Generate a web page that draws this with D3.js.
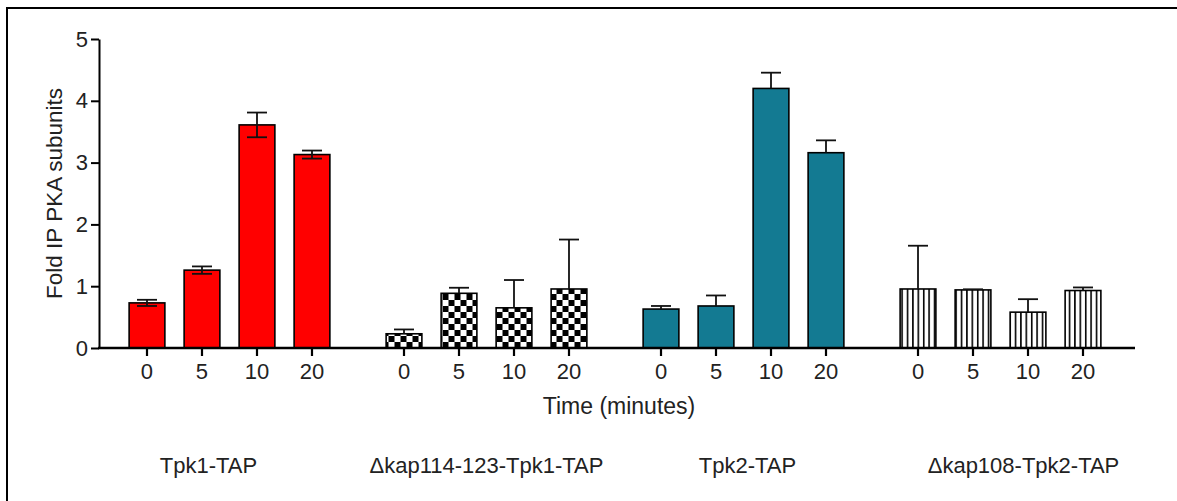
<!DOCTYPE html>
<html>
<head>
<meta charset="utf-8">
<script src="https://cdn.jsdelivr.net/npm/d3@7"></script>
<style>
  body { margin: 0; background: #fff; }
  svg { display: block; }
</style>
</head>
<body>
<div id="chart"></div>
<script>
// data
const groups = ["Tpk1-TAP", "\u0394kap114-123-Tpk1-TAP", "Tpk2-TAP", "\u0394kap108-Tpk2-TAP"];
const times = ["0", "5", "10", "20"];
const tpk1 = [0.73, 1.26, 3.61, 3.13];
const tpk1Err = [0.05, 0.06, 0.2, 0.065];
const kap114 = [0.23, 0.885, 0.65, 0.955];
const kap114Err = [0.07, 0.09, 0.45, 0.8];
const tpk2 = [0.63, 0.68, 4.2, 3.16];
const tpk2Err = [0.05, 0.17, 0.255, 0.2];
const kap108 = [0.955, 0.94, 0.58, 0.93];
const kap108Err = [0.7, 0.01, 0.21, 0.05];
const yTicks = [0, 1, 2, 3, 4, 5];

(function () {
    const W = 1177, H = 501;
    const font = "'Liberation Sans', Arial, sans-serif";

    const svg = d3.select("#chart")
        .append("svg")
        .attr("width", W)
        .attr("height", H)
        .style("font-family", font);

    // patterns for the two deletion strains
    const defs = svg.append("defs");
    const checker = defs.append("pattern")
        .attr("id", "checker")
        .attr("patternUnits", "userSpaceOnUse")
        .attr("width", 12).attr("height", 12);
    checker.append("rect").attr("width", 12).attr("height", 12).attr("fill", "#fff");
    checker.append("rect").attr("x", 0).attr("y", 0).attr("width", 6).attr("height", 6).attr("fill", "#000");
    checker.append("rect").attr("x", 6).attr("y", 6).attr("width", 6).attr("height", 6).attr("fill", "#000");

    const stripes = defs.append("pattern")
        .attr("id", "stripes")
        .attr("patternUnits", "userSpaceOnUse")
        .attr("width", 5.4).attr("height", 10);
    stripes.append("rect").attr("width", 5.4).attr("height", 10).attr("fill", "#fff");
    stripes.append("rect").attr("x", 0).attr("y", 0).attr("width", 1.6).attr("height", 10).attr("fill", "#000");

    const series = [
        { group: groups[0], values: tpk1, errs: tpk1Err, fill: "#ff0000", both: true },
        { group: groups[1], values: kap114, errs: kap114Err, fill: "url(#checker)", both: false },
        { group: groups[2], values: tpk2, errs: tpk2Err, fill: "#137a92", both: false },
        { group: groups[3], values: kap108, errs: kap108Err, fill: "url(#stripes)", both: false }
    ];

    // outer frame
    svg.append("rect")
        .attr("x", 7).attr("y", 8)
        .attr("width", 1200).attr("height", 600)
        .attr("fill", "none")
        .attr("stroke", "#000")
        .attr("stroke-width", 2);

    const y = d3.scaleLinear().domain([0, 5]).range([348, 39]);

    const x0 = d3.scaleBand()
        .domain(groups)
        .range([119.5, 1110.5])
        .paddingInner(0.144);

    const xi = d3.scaleBand()
        .domain(times)
        .range([0, x0.bandwidth()])
        .paddingInner(0.35)
        .paddingOuter(0.175);

    // Y axis
    const yAxis = svg.append("g")
        .attr("transform", "translate(99,0)")
        .call(d3.axisLeft(y).tickValues(yTicks).tickFormat(d3.format("d"))
            .tickSize(8).tickPadding(3).tickSizeOuter(0));
    yAxis.select(".domain").attr("stroke-width", 2);
    yAxis.selectAll(".tick line").attr("stroke-width", 2);
    yAxis.selectAll(".tick text")
        .attr("font-size", "22px")
        .attr("font-family", font)
        .attr("fill", "#222");

    // bars
    const grp = svg.append("g")
        .selectAll("g")
        .data(series)
        .join("g")
        .attr("transform", d => `translate(${x0(d.group)},0)`);

    grp.selectAll("rect")
        .data(d => d.values.map((v, i) => ({ t: times[i], v: v, e: d.errs[i], fill: d.fill, both: d.both })))
        .join("rect")
        .attr("x", d => xi(d.t))
        .attr("y", d => y(d.v))
        .attr("width", xi.bandwidth())
        .attr("height", d => y(0) - y(d.v))
        .attr("fill", d => d.fill)
        .attr("stroke", "#000")
        .attr("stroke-width", 1.6);

    // error bars
    const capW = 20;
    const eb = grp.selectAll("g.err")
        .data(d => d.values.map((v, i) => ({ t: times[i], v: v, e: d.errs[i], both: d.both })))
        .join("g")
        .attr("class", "err")
        .attr("stroke", "#111")
        .attr("stroke-width", 1.8);
    eb.append("line")
        .attr("x1", d => xi(d.t) + xi.bandwidth() / 2)
        .attr("x2", d => xi(d.t) + xi.bandwidth() / 2)
        .attr("y1", d => y(d.both ? d.v - d.e : d.v))
        .attr("y2", d => y(d.v + d.e));
    eb.append("line")
        .attr("x1", d => xi(d.t) + xi.bandwidth() / 2 - capW / 2)
        .attr("x2", d => xi(d.t) + xi.bandwidth() / 2 + capW / 2)
        .attr("y1", d => y(d.v + d.e))
        .attr("y2", d => y(d.v + d.e));
    eb.filter(d => d.both).append("line")
        .attr("x1", d => xi(d.t) + xi.bandwidth() / 2 - capW / 2)
        .attr("x2", d => xi(d.t) + xi.bandwidth() / 2 + capW / 2)
        .attr("y1", d => y(d.v - d.e))
        .attr("y2", d => y(d.v - d.e));

    // X axis baseline and time ticks per group
    svg.append("line")
        .attr("x1", 98).attr("x2", 1135)
        .attr("y1", y(0)).attr("y2", y(0))
        .attr("stroke", "#000")
        .attr("stroke-width", 2.5);

    groups.forEach(function (g) {
        const ax = svg.append("g")
            .attr("transform", `translate(${x0(g)},${y(0)})`)
            .call(d3.axisBottom(xi).tickSize(8).tickPadding(7));
        ax.select(".domain").remove();
        ax.selectAll(".tick line").attr("stroke-width", 2.2);
        ax.selectAll(".tick text")
            .attr("font-size", "22px")
            .attr("font-family", font)
            .attr("fill", "#222");
    });

    // axis titles
    svg.append("text")
        .attr("transform", `translate(54,${(y(0) + y(5)) / 2}) rotate(-90)`)
        .attr("text-anchor", "middle")
        .attr("dy", "0.35em")
        .attr("font-size", "22.5px")
        .attr("fill", "#222")
        .text("Fold IP PKA subunits");

    svg.append("text")
        .attr("x", 619).attr("y", 414)
        .attr("text-anchor", "middle")
        .attr("font-size", "23px")
        .attr("fill", "#222")
        .text("Time (minutes)");

    // strain labels under each group
    const labelShift = [-21, 0, 4, 23];
    svg.append("g")
        .selectAll("text")
        .data(groups)
        .join("text")
        .attr("x", (d, i) => x0(d) + x0.bandwidth() / 2 + labelShift[i])
        .attr("y", 473)
        .attr("text-anchor", "middle")
        .attr("font-size", "22px")
        .attr("fill", "#222")
        .text(d => d);
})()
</script>
</body>
</html>
